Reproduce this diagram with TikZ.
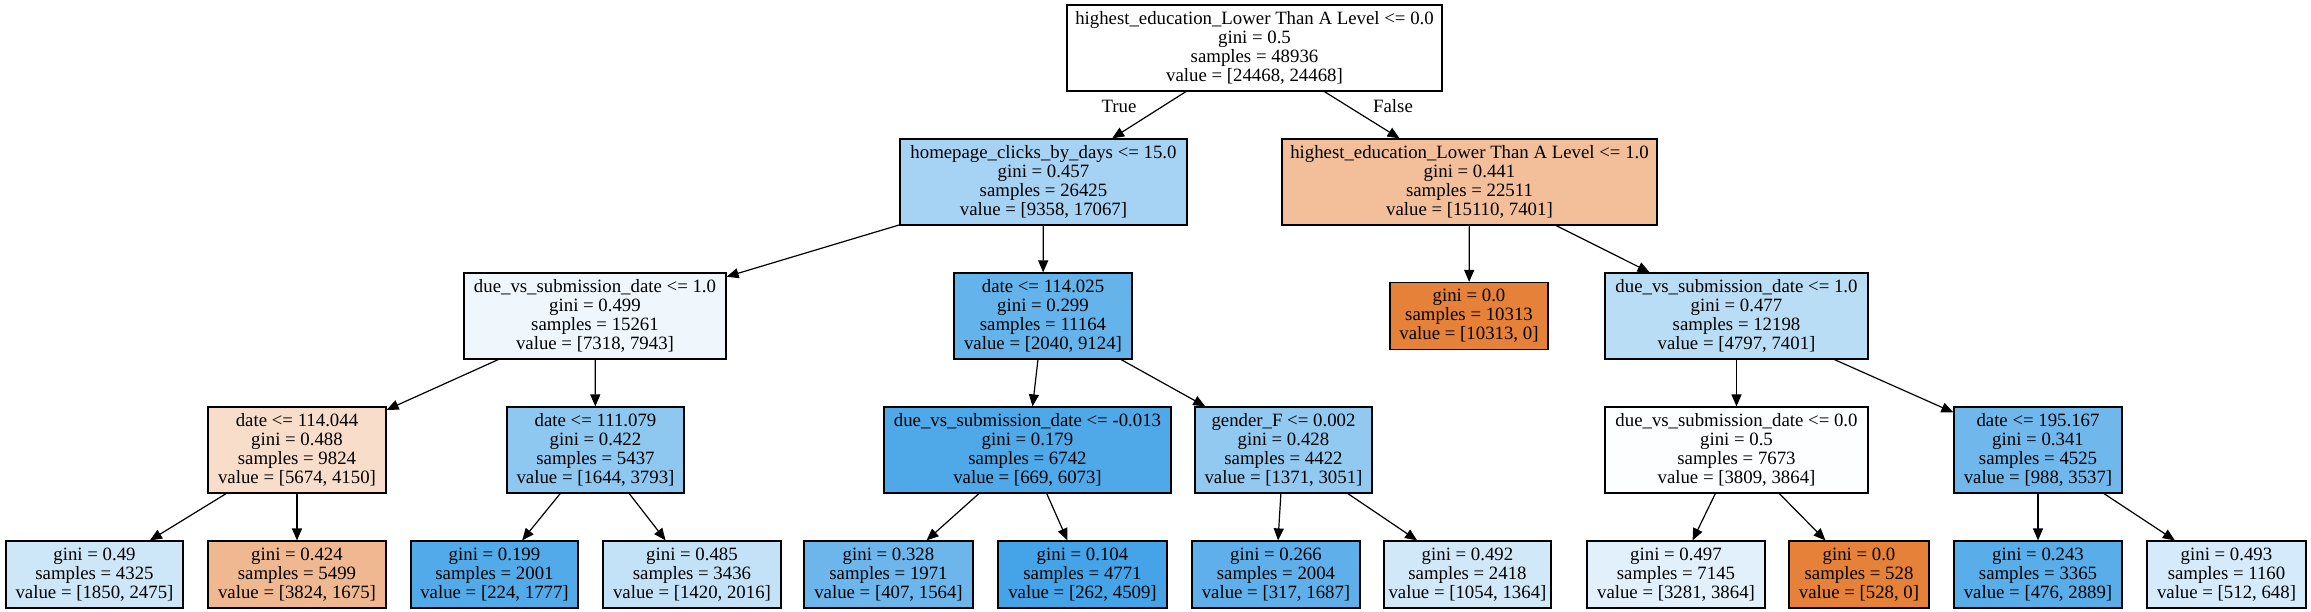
\documentclass[tikz,border=0pt]{standalone}
\usepackage{fontspec}
\setmainfont{Liberation Serif}
\usetikzlibrary{arrows.meta}
\definecolor{orng}{RGB}{229,129,57}
\definecolor{blu}{RGB}{57,157,229}
\begin{document}
\begin{tikzpicture}[x=1pt,y=-1pt,
  box/.style={draw=black, line width=1.2pt, rectangle, inner sep=0pt, align=center,
    font=\fontsize{18.8}{18.9}\selectfont},
  inner4/.style={box, minimum height=86pt},
  leaf/.style={box, minimum height=67pt},
  edge/.style={line width=1.2pt, -{Triangle[length=12pt,width=10pt]}},
  lab/.style={font=\fontsize{18.8}{18.9}\selectfont, inner sep=0pt},
]
\useasboundingbox[fill=white] (0,0) rectangle (2311,611);

% level 0
\node[inner4, minimum width=375pt, fill=white] (root) at (1254.5,48)
  {highest\_education\_Lower Than A Level <= 0.0\\gini = 0.5\\samples = 48936\\value = [24468, 24468]};
% level 1
\node[inner4, minimum width=287pt, fill=blu!45!white] (n1) at (1043.5,182)
  {homepage\_clicks\_by\_days <= 15.0\\gini = 0.457\\samples = 26425\\value = [9358, 17067]};
\node[inner4, minimum width=375pt, fill=orng!51!white] (n2) at (1469.5,182)
  {highest\_education\_Lower Than A Level <= 1.0\\gini = 0.441\\samples = 22511\\value = [15110, 7401]};
% level 2
\node[inner4, minimum width=262pt, fill=blu!8!white] (n3) at (595,316)
  {due\_vs\_submission\_date <= 1.0\\gini = 0.499\\samples = 15261\\value = [7318, 7943]};
\node[inner4, minimum width=178pt, fill=blu!78!white] (n4) at (1043,316)
  {date <= 114.025\\gini = 0.299\\samples = 11164\\value = [2040, 9124]};
\node[leaf, minimum width=158pt, fill=orng] (n5) at (1469,316)
  {gini = 0.0\\samples = 10313\\value = [10313, 0]};
\node[inner4, minimum width=263pt, fill=blu!35!white] (n6) at (1736.5,316)
  {due\_vs\_submission\_date <= 1.0\\gini = 0.477\\samples = 12198\\value = [4797, 7401]};
% level 3
\node[inner4, minimum width=178pt, fill=orng!27!white] (n7) at (297,450)
  {date <= 114.044\\gini = 0.488\\samples = 9824\\value = [5674, 4150]};
\node[inner4, minimum width=177pt, fill=blu!57!white] (n8) at (595.5,450)
  {date <= 111.079\\gini = 0.422\\samples = 5437\\value = [1644, 3793]};
\node[inner4, minimum width=287pt, fill=blu!89!white] (n9) at (1027.5,450)
  {due\_vs\_submission\_date <= -0.013\\gini = 0.179\\samples = 6742\\value = [669, 6073]};
\node[inner4, minimum width=177pt, fill=blu!55!white] (n10) at (1283.5,450)
  {gender\_F <= 0.002\\gini = 0.428\\samples = 4422\\value = [1371, 3051]};
\node[inner4, minimum width=263pt, fill=blu!1.4!white] (n11) at (1736.5,450)
  {due\_vs\_submission\_date <= 0.0\\gini = 0.5\\samples = 7673\\value = [3809, 3864]};
\node[inner4, minimum width=168pt, fill=blu!72!white] (n12) at (2038,450)
  {date <= 195.167\\gini = 0.341\\samples = 4525\\value = [988, 3537]};
% level 4 (leaves)
\node[leaf, minimum width=177pt, fill=blu!25!white] (l1) at (94.5,574.5)
  {gini = 0.49\\samples = 4325\\value = [1850, 2475]};
\node[leaf, minimum width=178pt, fill=orng!56!white] (l2) at (297,574.5)
  {gini = 0.424\\samples = 5499\\value = [3824, 1675]};
\node[leaf, minimum width=167pt, fill=blu!87!white] (l3) at (494.5,574.5)
  {gini = 0.199\\samples = 2001\\value = [224, 1777]};
\node[leaf, minimum width=178pt, fill=blu!30!white] (l4) at (692,574.5)
  {gini = 0.485\\samples = 3436\\value = [1420, 2016]};
\node[leaf, minimum width=169pt, fill=blu!74!white] (l5) at (888.5,574.5)
  {gini = 0.328\\samples = 1971\\value = [407, 1564]};
\node[leaf, minimum width=169pt, fill=blu!94!white] (l6) at (1082.5,574.5)
  {gini = 0.104\\samples = 4771\\value = [262, 4509]};
\node[leaf, minimum width=168pt, fill=blu!81!white] (l7) at (1276,574.5)
  {gini = 0.266\\samples = 2004\\value = [317, 1687]};
\node[leaf, minimum width=167pt, fill=blu!23!white] (l8) at (1467.5,574.5)
  {gini = 0.492\\samples = 2418\\value = [1054, 1364]};
\node[leaf, minimum width=178pt, fill=blu!15!white] (l9) at (1676,574.5)
  {gini = 0.497\\samples = 7145\\value = [3281, 3864]};
\node[leaf, minimum width=140pt, fill=orng] (l10) at (1859,574.5)
  {gini = 0.0\\samples = 528\\value = [528, 0]};
\node[leaf, minimum width=168pt, fill=blu!84!white] (l11) at (2038,574.5)
  {gini = 0.243\\samples = 3365\\value = [476, 2889]};
\node[leaf, minimum width=159pt, fill=blu!21!white] (l12) at (2226.5,574.5)
  {gini = 0.493\\samples = 1160\\value = [512, 648]};

% edges
\draw[edge] (root) -- (n1);
\draw[edge] (root) -- (n2);
\draw[edge] (n1) -- (n3);
\draw[edge] (n1) -- (n4);
\draw[edge] (n2) -- (n5);
\draw[edge] (n2) -- (n6);
\draw[edge] (n3) -- (n7);
\draw[edge] (n3) -- (n8);
\draw[edge] (n4) -- (n9);
\draw[edge] (n4) -- (n10);
\draw[edge] (n6) -- (n11);
\draw[edge] (n6) -- (n12);
\draw[edge] (n7) -- (l1);
\draw[edge] (n7) -- (l2);
\draw[edge] (n8) -- (l3);
\draw[edge] (n8) -- (l4);
\draw[edge] (n9) -- (l5);
\draw[edge] (n9) -- (l6);
\draw[edge] (n10) -- (l7);
\draw[edge] (n10) -- (l8);
\draw[edge] (n11) -- (l9);
\draw[edge] (n11) -- (l10);
\draw[edge] (n12) -- (l11);
\draw[edge] (n12) -- (l12);

% edge labels
\node[lab] (tlab) at (1119,106) {True};
\node[lab] (flab) at (1393,106) {False};
\end{tikzpicture}
\end{document}
